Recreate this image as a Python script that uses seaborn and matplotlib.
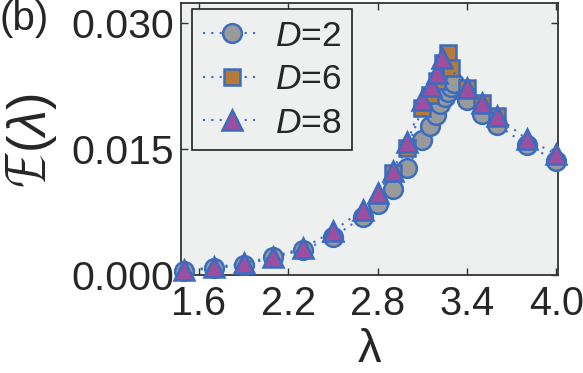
import matplotlib
matplotlib.use("Agg")
import matplotlib.pyplot as plt
import seaborn as sns
import pandas as pd

# ---- data ----
lam_D2 = [1.5, 1.7, 1.9, 2.1, 2.3, 2.5, 2.7, 2.8, 2.9, 3.0, 3.1, 3.15, 3.19, 3.22,
          3.25, 3.27, 3.29, 3.31, 3.4, 3.5, 3.6, 3.8, 4.0]
E_D2 = [0.0005, 0.0008, 0.0012, 0.0021, 0.0030, 0.0045, 0.0069, 0.0084, 0.0103, 0.0127,
        0.0161, 0.0177, 0.0191, 0.0204, 0.0212, 0.0218, 0.0224, 0.0229, 0.0209, 0.0192,
        0.0179, 0.0155, 0.0136]

lam_D6 = [2.9, 3.0, 3.1, 3.15, 3.2, 3.24, 3.27, 3.29, 3.4, 3.5, 3.6]
E_D6 = [0.0122, 0.0151, 0.0199, 0.0214, 0.0231, 0.0252, 0.0265, 0.0246, 0.0223, 0.0205,
        0.0189]

lam_D8 = [1.5, 1.7, 1.9, 2.1, 2.3, 2.5, 2.7, 2.8, 2.9, 3.0, 3.1, 3.16, 3.2, 3.23,
          3.4, 3.5, 3.6, 3.8, 4.0]
E_D8 = [0.0006, 0.0009, 0.0014, 0.0022, 0.0032, 0.0052, 0.0078, 0.0098, 0.0124, 0.0158,
        0.0208, 0.0225, 0.0241, 0.0258, 0.0223, 0.0205, 0.0189, 0.0162, 0.0144]

labels = ["$D$=2", "$D$=6", "$D$=8"]
x_ticks = [1.6, 2.2, 2.8, 3.4, 4.0]
y_ticks = [0.000, 0.015, 0.030]
y_ticklabels = ["0.000", "0.015", "0.030"]

# ---- style ----
sns.set_theme(style="ticks")
plt.rcParams["font.family"] = ["Liberation Sans", "DejaVu Sans"]
plt.rcParams["mathtext.fontset"] = "custom"
plt.rcParams["mathtext.it"] = "Liberation Sans:italic"
plt.rcParams["mathtext.rm"] = "Liberation Sans"

edge = "#3a6cc0"
bg = "#eef0ef"

fig = plt.figure(figsize=(5.83, 3.73), dpi=100)
ax = fig.add_axes([0.3105, 0.2627, 0.6465, 0.7293])
ax.set_facecolor(bg)

series = [
    (lam_D2, E_D2, "o", "#9a9a9a", 13.5, labels[0]),
    (lam_D6, E_D6, "s", "#b57a3a", 11.5, labels[1]),
    (lam_D8, E_D8, "^", "#9b4f9e", 14.0, labels[2]),
]
for lam, E, mk, fc, ms, lab in series:
    df = pd.DataFrame({"lam": lam, "E": E})
    sns.lineplot(data=df, x="lam", y="E", ax=ax, sort=False, errorbar=None,
                 color=edge, linestyle=(0, (1, 3)), linewidth=1.5,
                 marker=mk, markersize=ms, markerfacecolor=fc,
                 markeredgecolor=edge, markeredgewidth=1.8, label=lab,
                 clip_on=False, zorder=3)

ax.set_xlim(1.48, 4.01)
ax.set_ylim(0.0, 0.0324)
ax.set_xticks(x_ticks)
ax.set_xticklabels([f"{v:.1f}" for v in x_ticks])
ax.set_yticks(y_ticks)
ax.set_yticklabels(y_ticklabels)
ax.tick_params(direction="in", length=5, width=1, top=True, right=True,
               labelsize=29.5, color="#333333")
ax.tick_params(axis="x", pad=7, labelsize=28.5)
ax.tick_params(axis="y", pad=5)
for s in ax.spines.values():
    s.set_color("#333333")
    s.set_linewidth(1.3)

ax.set_xlabel("λ", fontsize=34, labelpad=4)
ax.set_ylabel(r"$\mathcal{E}(\lambda)$", fontsize=38, labelpad=9)

leg = ax.legend(loc="upper left", bbox_to_anchor=(0.029, 0.978), borderaxespad=0,
                fontsize=25.5, handlelength=1.65, handletextpad=0.4, labelspacing=0.3,
                borderpad=0.3, frameon=True, fancybox=False, markerscale=1.0)
leg.get_frame().set_edgecolor("#222222")
leg.get_frame().set_linewidth(1.2)
leg.get_frame().set_facecolor(bg)
leg.get_frame().set_alpha(1)
leg.set_zorder(5)

fig.text(0.0, 1.0, "(b)", fontsize=29, va="top", ha="left")

fig.savefig("out.png", dpi=100, facecolor="white")
